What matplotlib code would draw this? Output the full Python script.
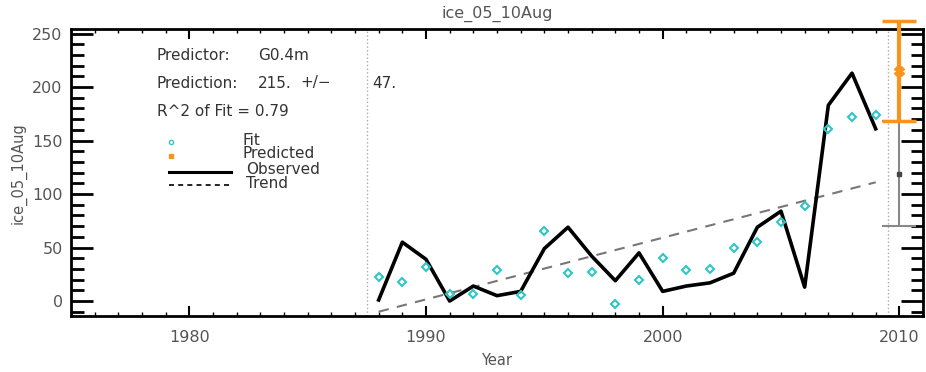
import numpy as np
import matplotlib
matplotlib.use("Agg")
from matplotlib import pyplot as plt
from matplotlib.ticker import MultipleLocator

years = np.arange(1988, 2010)
observed = [1, 55, 39, 0, 14, 5, 9, 49, 69, 42, 19, 45, 9, 14, 17, 26, 69, 84, 13, 183, 213, 161]
fit = [22, 18, 32, 7, 7, 29, 6, 65, 26, 27, -3, 20, 40, 29, 30, 50, 55, 74, 89, 161, 172, 174]
trend_ends = [-10, 111]  # trend values at 1988 and 2009

pred_year = 2010
prediction = 215
pred_err = 47
fit_center = 119
fit_low = 70
fit_high = 168

grey = "#555555"
cyan = "#2fc6c6"
orange = "#f7941d"

fig = plt.figure(figsize=(9.26, 3.72), dpi=100)
ax = fig.add_axes([71 / 926, 56 / 372, 852 / 926, 286.7 / 372])

# observed, fit, trend
ax.plot(years, observed, color="black", lw=2.6, zorder=3)
ax.plot(years, fit, ls="none", marker="D", ms=4.5, mfc="none", mec=cyan, mew=1.5, zorder=4)
ax.plot([years[0], years[-1]], trend_ends, color="#777777", lw=1.5, ls=(0, (5, 4)), zorder=2)

# prediction error bars
ax.errorbar([pred_year], [fit_center], yerr=[[fit_center - fit_low], [fit_high - fit_center]],
            fmt="s", ms=3, color="#888888", mfc="#444444", mec="#444444",
            lw=1.5, capsize=12, capthick=1.5, zorder=3)
ax.errorbar([pred_year], [prediction], yerr=pred_err, fmt="X", ms=7, color=orange,
            lw=3, capsize=12, capthick=2.5, zorder=5, clip_on=False)

# dotted bounds of the fit period
for xv in [1987.5, 2009.5]:
    ax.axvline(xv, color="#aaaaaa", ls=":", lw=1.0, zorder=1)

ax.set_xlim(1975, 2011)
ax.set_ylim(-14, 254)
ax.xaxis.set_major_locator(MultipleLocator(10))
ax.xaxis.set_minor_locator(MultipleLocator(1))
ax.yaxis.set_major_locator(MultipleLocator(50))
ax.yaxis.set_minor_locator(MultipleLocator(10))
ax.tick_params(axis="both", which="both", direction="in", top=True, right=True,
               colors="black", labelcolor=grey, labelsize=11.5)
ax.tick_params(axis="y", which="major", length=16, width=2, pad=6)
ax.tick_params(axis="y", which="minor", length=9, width=2)
ax.tick_params(axis="x", which="major", length=7, width=1.5, pad=10)
ax.tick_params(axis="x", which="minor", length=3, width=1.0)
for s in ax.spines.values():
    s.set_linewidth(2)

ax.set_title("ice_05_10Aug", color=grey, fontsize=11.5, pad=8)
ax.set_xlabel("Year", color=grey, fontsize=10.5, labelpad=6)
ax.set_ylabel("ice_05_10Aug", color=grey, fontsize=10.5, labelpad=4)

# annotation text, placed by pixel position in the figure
def px(x, y):
    return ((x - 71) / 852, (316 - y) / 286.7)

tx = dict(transform=ax.transAxes, color="#333333", fontsize=11, va="center", ha="left")
ax.text(*px(157, 55), "Predictor:", **tx)
ax.text(*px(258, 55), "G0.4m", **tx)
ax.text(*px(157, 83), "Prediction:", **tx)
ax.text(*px(258, 83), "215.", **tx)
ax.text(*px(300, 83), "+/\u2212", **tx)
ax.text(*px(372, 83), "47.", **tx)
ax.text(*px(157, 111), "R^2 of Fit = 0.79", **tx)

# legend
lx0, lx1 = 169, 231
ax.plot(*px(171, 142), transform=ax.transAxes, marker="o", ms=3, mfc="none", mec=cyan, mew=1)
ax.plot(*px(171, 156), transform=ax.transAxes, marker="s", ms=3, color=orange)
ax.plot([px(lx0, 172)[0], px(lx1, 172)[0]], [px(0, 172)[1]] * 2, transform=ax.transAxes,
        color="black", lw=2.2)
ax.plot([px(lx0, 185)[0], px(lx1, 185)[0]], [px(0, 185)[1]] * 2, transform=ax.transAxes,
        color="black", lw=1.2, ls=(0, (3, 2.5)))
lt = dict(transform=ax.transAxes, color="#333333", fontsize=11, va="center", ha="left")
ax.text(*px(243, 140), "Fit", **lt)
ax.text(*px(243, 154), "Predicted", **lt)
ax.text(*px(246, 169), "Observed", **lt)
ax.text(*px(246, 183), "Trend", **lt)

fig.savefig("out.png", dpi=100)
